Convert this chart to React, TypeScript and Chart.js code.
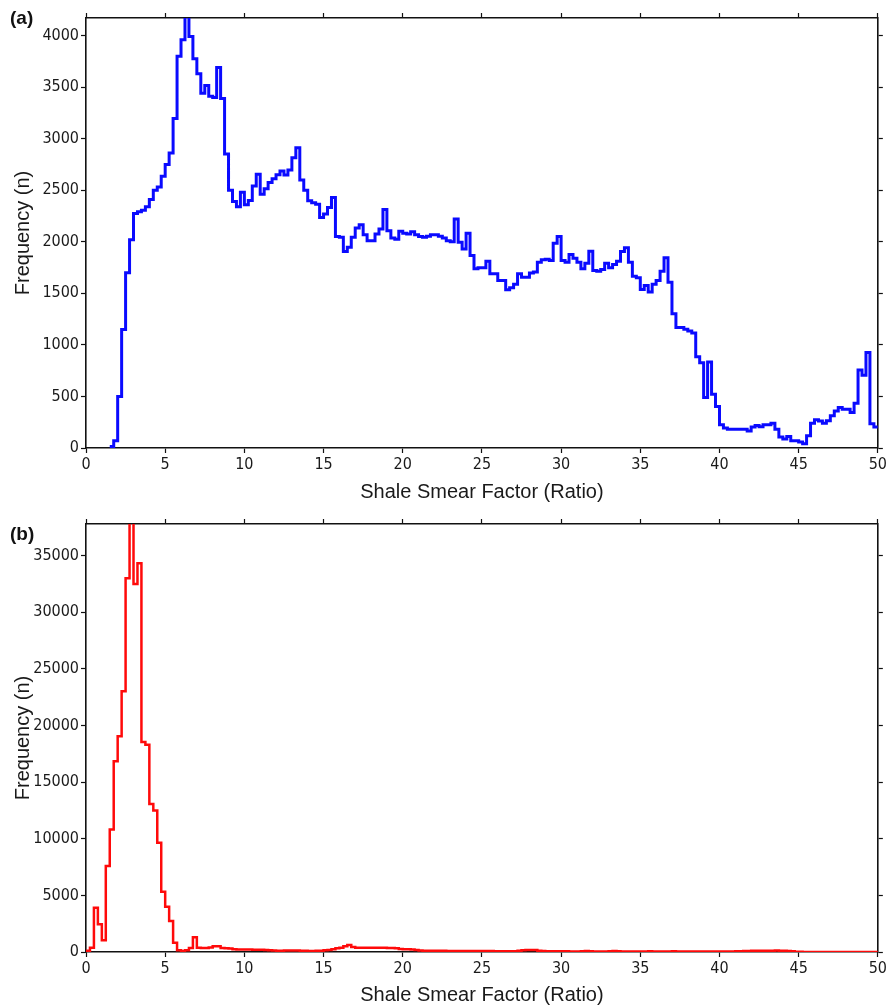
import React, { useEffect, useRef } from "react";
import { Chart, registerables } from "chart.js";

Chart.register(...registerables);

// ---------- data ----------
const BIN_WIDTH = 0.25;
const X_MIN = 0;
const X_MAX = 50;
const X_TICKS = [0, 5, 10, 15, 20, 25, 30, 35, 40, 45, 50];
const X_TITLE = "Shale Smear Factor (Ratio)";
const Y_TITLE = "Frequency (n)";

// Panel (a): bins of 0.25 starting at 1.5
const startA = 1.5;
const freqA = [
  15, 70,
  500, 1150, 1700, 2020,
  2275, 2290, 2305, 2340,
  2410, 2500, 2530, 2635,
  2750, 2860, 3195, 3800,
  3960, 4250, 3990, 3775,
  3630, 3440, 3515, 3410,
  3400, 3690, 3390, 2850,
  2500, 2390, 2340, 2480,
  2360, 2400, 2540, 2655,
  2460, 2515, 2575, 2610,
  2650, 2687, 2648, 2697,
  2815, 2912, 2600, 2500,
  2397, 2378, 2365, 2236,
  2269, 2333, 2429, 2050,
  2043, 1905, 1947, 2043,
  2134, 2166, 2069, 2011,
  2011, 2076, 2124, 2314,
  2108, 2037, 2024, 2101,
  2082, 2076, 2098, 2069,
  2050, 2043, 2053, 2069,
  2069, 2053, 2037, 2011,
  2001, 2221, 1995, 1931,
  2082, 1866, 1738, 1747,
  1747, 1811, 1690, 1690,
  1625, 1625, 1535, 1555,
  1587, 1690, 1657, 1657,
  1696, 1706, 1802, 1825,
  1831, 1818, 1985, 2050,
  1818, 1802, 1876, 1841,
  1802, 1738, 1792, 1908,
  1722, 1715, 1731, 1792,
  1747, 1779, 1811, 1905,
  1941, 1802, 1666, 1651,
  1538, 1577, 1512, 1587,
  1625, 1715, 1844, 1608,
  1303, 1168, 1168, 1152,
  1135, 1116, 884, 826,
  489, 833, 521, 402,
  225, 193, 183, 183,
  183, 183, 183, 164,
  203, 218, 207, 225,
  225, 241, 183, 106,
  87, 112, 70, 70,
  58, 41, 119, 241,
  273, 262, 241, 265,
  312, 360, 392, 376,
  376, 344, 434, 756,
  705, 927, 235, 203,
];
const yMaxA = 4170;
const yTicksA = [0, 500, 1000, 1500, 2000, 2500, 3000, 3500, 4000];

// Panel (b): bins of 0.25 starting at 0
const startB = 0;
const freqB = [
  100, 380, 3910, 2440,
  1030, 7585, 10820, 16850,
  19050, 23020, 33015, 39500,
  32490, 34340, 18550, 18300,
  13080, 12500, 9640, 5320,
  4000, 2730, 820, 150,
  80, 150, 350, 1300,
  380, 360, 360, 390,
  500, 500, 350, 330,
  320, 250, 230, 230,
  220, 210, 200, 200,
  190, 180, 150, 130,
  110, 120, 140, 140,
  140, 130, 120, 100,
  90, 90, 100, 110,
  160, 180, 250, 340,
  380, 500, 620, 450,
  380, 370, 370, 380,
  380, 370, 370, 370,
  360, 350, 330, 270,
  250, 250, 230, 170,
  130, 120, 120, 120,
  110, 100, 100, 90,
  90, 90, 90, 90,
  80, 80, 80, 80,
  80, 80, 80, 70,
  70, 70, 70, 70,
  70, 100, 150, 170,
  180, 170, 120, 80,
  70, 60, 60, 60,
  60, 60, 50, 50,
  50, 60, 80, 60,
  50, 50, 50, 50,
  60, 80, 60, 50,
  50, 50, 40, 40,
  40, 50, 70, 50,
  40, 40, 40, 50,
  60, 50, 40, 40,
  40, 40, 40, 40,
  40, 40, 40, 40,
  40, 40, 40, 50,
  60, 70, 80, 90,
  100, 110, 110, 100,
  100, 120, 130, 120,
  100, 90, 60, 30,
  20, 10, 10, 10,
  10, 10, 10, 10,
  10, 10, 10, 10,
  10, 10, 10, 10,
  10, 10, 10, 10,
];
const yMaxB = 37800;
const yTicksB = [0, 5000, 10000, 15000, 20000, 25000, 30000, 35000];

// ---------- styling ----------
const W = 889;
const TICK_FONT = "'Liberation Sans Narrow', 'Arial Narrow', 'DejaVu Sans Condensed', sans-serif";
const TITLE_FONT = "'Liberation Sans', Arial, sans-serif";
const TEXT_COLOR = "#1a1a1a";
const FRAME = "#111";

function histPoints(start: number, values: number[]) {
  const pts = values.map((v, i) => ({ x: start + i * BIN_WIDTH, y: v }));
  pts.push({ x: start + values.length * BIN_WIDTH, y: values[values.length - 1] });
  return pts;
}

type PanelCfg = {
  height: number;
  top: number;
  bottom: number;
  left: number;
  right: number;
  yMax: number;
  yTicks: number[];
  color: string;
  width: number;
  start: number;
  values: number[];
  titlePadBottom: number;
  labelTop: number;
};

function setTicks(values: number[]) {
  return (s: any) => {
    s.ticks = values.map((v) => ({ value: v }));
  };
}

function buildConfig(c: PanelCfg): any {
  const grid = {
    display: true,
    drawOnChartArea: false,
    drawTicks: true,
    tickLength: 5,
    tickWidth: 1.2,
    tickColor: FRAME,
    color: FRAME,
  };
  const border = { display: true, color: FRAME, width: 1.6 };
  const tickFont = { family: TICK_FONT, size: 16 };
  const fmt = (v: any) => String(v);
  return {
    type: "line",
    data: {
      datasets: [
        {
          data: histPoints(c.start, c.values),
          borderColor: c.color,
          borderWidth: c.width,
          stepped: "before",
          pointRadius: 0,
          fill: false,
          tension: 0,
        },
      ],
    },
    options: {
      responsive: false,
      animation: false,
      events: [],
      layout: { padding: 0, autoPadding: false },
      plugins: {
        legend: { display: false },
        tooltip: { enabled: false },
        title: { display: false },
      },
      scales: {
        x: {
          type: "linear",
          position: "bottom",
          min: X_MIN,
          max: X_MAX,
          afterBuildTicks: setTicks(X_TICKS),
          ticks: {
            autoSkip: false,
            maxRotation: 0,
            padding: 2,
            color: TEXT_COLOR,
            font: tickFont,
            callback: fmt,
          },
          grid,
          border,
          title: {
            display: true,
            text: X_TITLE,
            color: TEXT_COLOR,
            font: { family: TITLE_FONT, size: 20 },
            padding: { top: 0, bottom: c.titlePadBottom },
          },
          afterFit: (s: any) => {
            s.height = c.bottom;
          },
        },
        xTop: {
          type: "linear",
          axis: "x",
          position: "top",
          min: X_MIN,
          max: X_MAX,
          afterBuildTicks: setTicks(X_TICKS),
          ticks: { display: false },
          grid,
          border,
          afterFit: (s: any) => {
            s.height = c.top;
          },
        },
        y: {
          type: "linear",
          position: "left",
          min: 0,
          max: c.yMax,
          afterBuildTicks: setTicks(c.yTicks),
          ticks: {
            autoSkip: false,
            padding: 2,
            color: TEXT_COLOR,
            font: tickFont,
            callback: fmt,
          },
          grid,
          border,
          title: {
            display: true,
            text: Y_TITLE,
            color: TEXT_COLOR,
            font: { family: TITLE_FONT, size: 20 },
            padding: { top: 11, bottom: 0 },
          },
          afterFit: (s: any) => {
            s.width = c.left;
          },
        },
        yRight: {
          type: "linear",
          axis: "y",
          position: "right",
          min: 0,
          max: c.yMax,
          afterBuildTicks: setTicks(c.yTicks),
          ticks: { display: false },
          grid,
          border,
          afterFit: (s: any) => {
            s.width = c.right;
          },
        },
      },
    },
  };
}

function Panel({ cfg, label, offsetTop }: { cfg: PanelCfg; label: string; offsetTop: number }) {
  const ref = useRef<HTMLCanvasElement | null>(null);
  useEffect(() => {
    if (!ref.current) return;
    const chart = new Chart(ref.current, buildConfig(cfg));
    return () => chart.destroy();
  }, []);
  return (
    <div style={{ position: "absolute", left: 0, top: offsetTop, width: W, height: cfg.height }}>
      <canvas ref={ref} width={W} height={cfg.height} style={{ display: "block", width: W, height: cfg.height }} />
      <div
        style={{
          position: "absolute",
          left: 10,
          top: cfg.labelTop,
          fontFamily: TITLE_FONT,
          fontWeight: "bold",
          fontSize: 19,
          lineHeight: "20px",
          color: "#111",
        }}
      >
        {label}
      </div>
    </div>
  );
}

const panelA: PanelCfg = {
  height: 505,
  top: 18,
  bottom: 57,
  left: 86,
  right: 10,
  yMax: yMaxA,
  yTicks: yTicksA,
  color: "#0a0aff",
  width: 3,
  start: startA,
  values: freqA,
  titlePadBottom: 1,
  labelTop: 8,
};

const panelB: PanelCfg = {
  height: 502,
  top: 19,
  bottom: 55,
  left: 86,
  right: 10,
  yMax: yMaxB,
  yTicks: yTicksB,
  color: "#ff0a0a",
  width: 2.5,
  start: startB,
  values: freqB,
  titlePadBottom: 0,
  labelTop: 19,
};

export default function App() {
  return (
    <div style={{ position: "absolute", left: 0, top: 0, width: W, height: 1007, background: "#fff" }}>
      <Panel cfg={panelA} label="(a)" offsetTop={0} />
      <Panel cfg={panelB} label="(b)" offsetTop={505} />
    </div>
  );
}
